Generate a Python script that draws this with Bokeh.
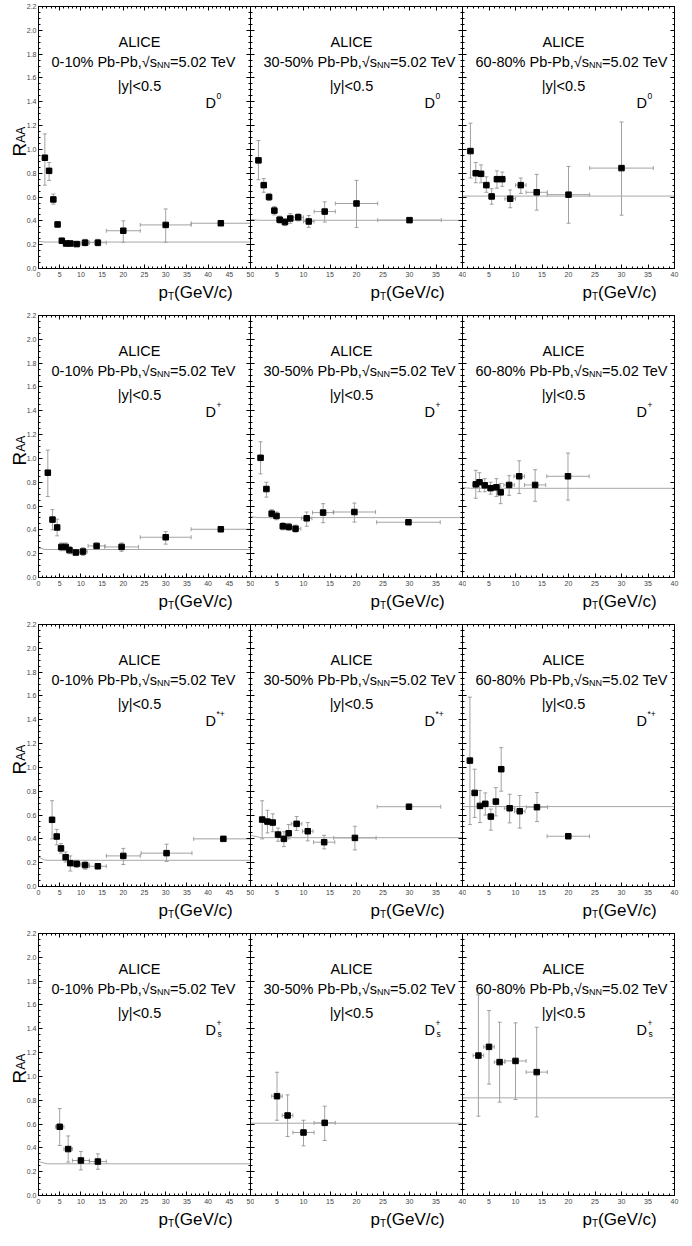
import math
from bokeh.plotting import figure
from bokeh.layouts import column, row
from bokeh.models import (ColumnDataSource, Whisker, TeeHead, Label, LinearAxis,
                          Range1d, FixedTicker, NumeralTickFormatter)
from bokeh.embed import file_html
from bokeh.resources import INLINE

# ---------------- data ----------------
centralities = ["0-10%", "30-50%", "60-80%"]
meson_sup = ["0", "+", "*+", "+"]
meson_sub = ["", "", "", "s"]
x_max = [50, 40, 40]
x_major_50 = [0, 5, 10, 15, 20, 25, 30, 35, 40, 45, 50]
x_major_40 = [5, 10, 15, 20, 25, 30, 35, 40]
y_major = [0.0, 0.2, 0.4, 0.6, 0.8, 1.0, 1.2, 1.4, 1.6, 1.8, 2.0, 2.2]

# D0, 0-10%
d0_c1_pt = [1.5, 2.5, 3.5, 4.5, 5.5, 6.5, 7.5, 9, 11, 14, 20, 30, 43]
d0_c1_raa = [0.93, 0.82, 0.58, 0.37, 0.233, 0.21, 0.21, 0.205, 0.217, 0.217, 0.317, 0.366, 0.38]
d0_c1_lo = [0.70, 0.74, 0.54, 0.35, 0.21, 0.19, 0.19, 0.185, 0.19, 0.19, 0.22, 0.22, 0.37]
d0_c1_hi = [1.13, 0.89, 0.625, 0.39, 0.255, 0.23, 0.23, 0.225, 0.245, 0.245, 0.40, 0.50, 0.39]
d0_c1_hw = [0.5, 0.5, 0.5, 0.5, 0.5, 0.5, 0.5, 1, 1, 2, 4, 6, 7]
d0_c1_lx = [0, 1.5, 50]
d0_c1_ly = [0.228, 0.222, 0.222]
# D0, 30-50%
d0_c2_pt = [1.5, 2.5, 3.5, 4.5, 5.5, 6.5, 7.5, 9, 11, 14, 20, 30]
d0_c2_raa = [0.908, 0.70, 0.60, 0.486, 0.41, 0.39, 0.42, 0.43, 0.395, 0.478, 0.546, 0.406]
d0_c2_lo = [0.745, 0.64, 0.57, 0.45, 0.38, 0.36, 0.38, 0.40, 0.345, 0.39, 0.345, 0.395]
d0_c2_hi = [1.075, 0.755, 0.63, 0.52, 0.44, 0.42, 0.46, 0.46, 0.445, 0.56, 0.74, 0.415]
d0_c2_hw = [0.5, 0.5, 0.5, 0.5, 0.5, 0.5, 0.5, 1, 1, 2, 4, 6]
d0_c2_lx = [0, 1.5, 40]
d0_c2_ly = [0.412, 0.405, 0.405]
# D0, 60-80%
d0_c3_pt = [1.5, 2.5, 3.5, 4.5, 5.5, 6.5, 7.5, 9, 11, 14, 20, 30]
d0_c3_raa = [0.986, 0.80, 0.795, 0.70, 0.605, 0.75, 0.75, 0.586, 0.70, 0.64, 0.62, 0.843]
d0_c3_lo = [0.76, 0.72, 0.72, 0.64, 0.54, 0.675, 0.69, 0.51, 0.63, 0.49, 0.38, 0.448]
d0_c3_hi = [1.22, 0.89, 0.87, 0.77, 0.67, 0.82, 0.81, 0.66, 0.76, 0.79, 0.857, 1.23]
d0_c3_hw = [0.5, 0.5, 0.5, 0.5, 0.5, 0.5, 0.5, 1, 1, 2, 4, 6]
d0_c3_lx = [0, 40]
d0_c3_ly = [0.608, 0.608]

# D+, 0-10%
dp_c1_pt = [2.2, 3.3, 4.4, 5.4, 6.4, 7.3, 8.8, 10.5, 13.7, 19.6, 30, 43]
dp_c1_raa = [0.88, 0.486, 0.42, 0.257, 0.257, 0.23, 0.21, 0.218, 0.265, 0.257, 0.338, 0.405]
dp_c1_lo = [0.68, 0.40, 0.35, 0.225, 0.225, 0.20, 0.19, 0.185, 0.24, 0.22, 0.28, 0.395]
dp_c1_hi = [1.07, 0.57, 0.49, 0.29, 0.29, 0.26, 0.23, 0.25, 0.29, 0.29, 0.385, 0.415]
dp_c1_hw = [0.5, 0.5, 0.5, 0.5, 0.5, 0.5, 1, 1, 2, 4, 6, 7]
dp_c1_lx = [0, 1.5, 50]
dp_c1_ly = [0.25, 0.235, 0.235]
# D+, 30-50%
dp_c2_pt = [1.9, 3.0, 4.0, 4.9, 6.1, 7.2, 8.5, 10.6, 13.7, 19.6, 29.8]
dp_c2_raa = [1.005, 0.743, 0.536, 0.517, 0.43, 0.425, 0.41, 0.497, 0.545, 0.55, 0.464]
dp_c2_lo = [0.87, 0.675, 0.50, 0.485, 0.40, 0.395, 0.38, 0.43, 0.46, 0.465, 0.455]
dp_c2_hi = [1.14, 0.80, 0.57, 0.55, 0.46, 0.455, 0.44, 0.55, 0.62, 0.625, 0.473]
dp_c2_hw = [0.5, 0.5, 0.5, 0.5, 0.5, 0.5, 1, 1, 2, 4, 6]
dp_c2_lx = [0, 1.5, 40]
dp_c2_ly = [0.51, 0.503, 0.503]
# D+, 60-80%
dp_c3_pt = [2.5, 3.2, 4.2, 5.3, 6.4, 7.2, 8.8, 10.7, 13.7, 19.9]
dp_c3_raa = [0.782, 0.80, 0.774, 0.75, 0.757, 0.715, 0.777, 0.85, 0.777, 0.85]
dp_c3_lo = [0.665, 0.72, 0.72, 0.70, 0.68, 0.62, 0.69, 0.705, 0.64, 0.65]
dp_c3_hi = [0.90, 0.88, 0.83, 0.80, 0.83, 0.79, 0.855, 0.98, 0.905, 1.045]
dp_c3_hw = [0.5, 0.5, 0.5, 0.5, 0.5, 0.5, 1, 1, 2, 4]
dp_c3_lx = [0, 1.5, 40]
dp_c3_ly = [0.755, 0.749, 0.749]

# D*+, 0-10%
ds_c1_pt = [3.2, 4.3, 5.3, 6.4, 7.5, 9, 11, 14, 20, 30.2, 43.6]
ds_c1_raa = [0.56, 0.42, 0.32, 0.246, 0.196, 0.19, 0.18, 0.17, 0.257, 0.28, 0.40]
ds_c1_lo = [0.40, 0.35, 0.28, 0.205, 0.13, 0.16, 0.145, 0.15, 0.185, 0.21, 0.39]
ds_c1_hi = [0.72, 0.48, 0.36, 0.29, 0.257, 0.22, 0.215, 0.19, 0.32, 0.355, 0.41]
ds_c1_hw = [0.5, 0.5, 0.5, 0.5, 0.5, 1, 1, 2, 4, 6, 7]
ds_c1_lx = [0, 1.2, 2, 50]
ds_c1_ly = [0.25, 0.225, 0.22, 0.22]
# D*+, 30-50%
ds_c2_pt = [2.2, 3.2, 4.2, 5.2, 6.3, 7.2, 8.7, 10.8, 13.9, 19.7, 29.9]
ds_c2_raa = [0.562, 0.545, 0.537, 0.436, 0.40, 0.447, 0.526, 0.464, 0.372, 0.408, 0.67]
ds_c2_lo = [0.40, 0.45, 0.46, 0.38, 0.335, 0.40, 0.47, 0.383, 0.316, 0.307, 0.66]
ds_c2_hi = [0.72, 0.64, 0.61, 0.49, 0.46, 0.52, 0.587, 0.537, 0.43, 0.506, 0.68]
ds_c2_hw = [0.5, 0.5, 0.5, 0.5, 0.5, 0.5, 1, 1, 2, 4, 6]
ds_c2_lx = [0, 2, 40]
ds_c2_ly = [0.43, 0.41, 0.41]
# D*+, 60-80%
ds_c3_pt = [1.4, 2.3, 3.3, 4.3, 5.35, 6.3, 7.3, 8.9, 10.8, 14.05, 19.96]
ds_c3_raa = [1.057, 0.786, 0.677, 0.694, 0.587, 0.713, 0.985, 0.657, 0.632, 0.666, 0.422]
ds_c3_lo = [0.52, 0.58, 0.537, 0.60, 0.473, 0.593, 0.80, 0.534, 0.49, 0.545, 0.415]
ds_c3_hi = [1.59, 0.985, 0.806, 0.786, 0.65, 0.83, 1.166, 0.775, 0.764, 0.789, 0.43]
ds_c3_hw = [0.5, 0.5, 0.5, 0.5, 0.5, 0.5, 0.5, 1, 1, 2, 4]
ds_c3_lx = [0, 40]
ds_c3_ly = [0.671, 0.671]

# Ds+, 0-10%
dss_c1_pt = [5, 7, 10, 14]
dss_c1_raa = [0.577, 0.39, 0.294, 0.285]
dss_c1_lo = [0.42, 0.28, 0.215, 0.22]
dss_c1_hi = [0.73, 0.50, 0.37, 0.35]
dss_c1_hw = [1, 1, 2, 2]
dss_c1_lx = [0, 2, 50]
dss_c1_ly = [0.285, 0.266, 0.266]
# Ds+, 30-50%
dss_c2_pt = [5, 7, 10, 14]
dss_c2_raa = [0.834, 0.672, 0.529, 0.61]
dss_c2_lo = [0.632, 0.495, 0.417, 0.462]
dss_c2_hi = [1.035, 0.845, 0.632, 0.75]
dss_c2_hw = [1, 1, 2, 2]
dss_c2_lx = [0, 40]
dss_c2_ly = [0.607, 0.607]
# Ds+, 60-80%
dss_c3_pt = [3, 5, 7, 10, 14]
dss_c3_raa = [1.175, 1.248, 1.12, 1.13, 1.036]
dss_c3_lo = [0.666, 0.935, 0.784, 0.806, 0.66]
dss_c3_hi = [1.685, 1.553, 1.455, 1.45, 1.413]
dss_c3_hw = [1, 1, 1, 2, 2]
dss_c3_lx = [0, 40]
dss_c3_ly = [0.82, 0.82]

panel_data = [
    [(d0_c1_pt, d0_c1_raa, d0_c1_lo, d0_c1_hi, d0_c1_hw, d0_c1_lx, d0_c1_ly),
     (d0_c2_pt, d0_c2_raa, d0_c2_lo, d0_c2_hi, d0_c2_hw, d0_c2_lx, d0_c2_ly),
     (d0_c3_pt, d0_c3_raa, d0_c3_lo, d0_c3_hi, d0_c3_hw, d0_c3_lx, d0_c3_ly)],
    [(dp_c1_pt, dp_c1_raa, dp_c1_lo, dp_c1_hi, dp_c1_hw, dp_c1_lx, dp_c1_ly),
     (dp_c2_pt, dp_c2_raa, dp_c2_lo, dp_c2_hi, dp_c2_hw, dp_c2_lx, dp_c2_ly),
     (dp_c3_pt, dp_c3_raa, dp_c3_lo, dp_c3_hi, dp_c3_hw, dp_c3_lx, dp_c3_ly)],
    [(ds_c1_pt, ds_c1_raa, ds_c1_lo, ds_c1_hi, ds_c1_hw, ds_c1_lx, ds_c1_ly),
     (ds_c2_pt, ds_c2_raa, ds_c2_lo, ds_c2_hi, ds_c2_hw, ds_c2_lx, ds_c2_ly),
     (ds_c3_pt, ds_c3_raa, ds_c3_lo, ds_c3_hi, ds_c3_hw, ds_c3_lx, ds_c3_ly)],
    [(dss_c1_pt, dss_c1_raa, dss_c1_lo, dss_c1_hi, dss_c1_hw, dss_c1_lx, dss_c1_ly),
     (dss_c2_pt, dss_c2_raa, dss_c2_lo, dss_c2_hi, dss_c2_hw, dss_c2_lx, dss_c2_ly),
     (dss_c3_pt, dss_c3_raa, dss_c3_lo, dss_c3_hi, dss_c3_hw, dss_c3_lx, dss_c3_ly)],
]

# ---------------- styling / layout ----------------
FONT = "Liberation Sans"
FW, FH = 212, 262
RSTRIP, ROVER = 34, 11          # R_AA strip width and how far column 1 overlaps it
LB, RB, RB_LAST = 12, 4, 5      # left border of 1st column, right borders
TOP, BOT = 6, 11
XSTRIP, XSTRIP_LAST = 30, 22    # height of the strips holding p_T(GeV/c)
FRAME0 = RSTRIP - ROVER + LB    # x of the first frame inside the page content
TOTAL_W = FRAME0 + 3 * FW + RB_LAST
ERR_COLOR = "#8a8a8a"
LINE_COLOR = "#a8a8a8"

ADV = {'0': .556, '1': .556, '2': .556, '3': .556, '4': .556, '5': .556, '6': .556,
       '7': .556, '8': .556, '9': .556, '-': .333, '%': .889, ' ': .278, 'P': .667,
       'b': .556, ',': .278, '\u221a': .549, 's': .5, 'N': .722, '=': .584, '.': .278,
       'T': .611, 'e': .556, 'V': .667, 'D': .722, 'p': .556, 'R': .722, 'A': .667}


def tw(s, size):
    return sum(ADV.get(ch, .556) for ch in s) * size


def labeled_axis(ticks, minor, standoff, fmt=None):
    ax = LinearAxis(ticker=FixedTicker(ticks=ticks, minor_ticks=minor))
    ax.axis_line_color = "black"
    ax.major_tick_line_color = "black"
    ax.minor_tick_line_color = "black"
    ax.major_tick_in = 4
    ax.major_tick_out = 0
    ax.minor_tick_in = 2
    ax.minor_tick_out = 0
    ax.major_label_text_font = FONT
    ax.major_label_text_font_size = "7px"
    ax.major_label_text_color = "#444444"
    ax.major_label_standoff = standoff
    if fmt is not None:
        ax.formatter = fmt
    return ax


def plain_axes(p, side, major, minor):
    # tick marks only, no tick labels: two axes carrying long and short marks
    for ticks, ln in ((major, 4), (minor, 2)):
        ax = LinearAxis(ticker=FixedTicker(ticks=[], minor_ticks=ticks))
        ax.axis_line_color = "black"
        ax.major_tick_in = 0
        ax.major_tick_out = 0
        ax.minor_tick_in = ln
        ax.minor_tick_out = 0
        ax.minor_tick_line_color = "black"
        ax.major_label_standoff = 0
        p.add_layout(ax, side)


def lab(p, text, x, y, xo, yo, size, align="left", angle=0.0):
    p.add_layout(Label(x=x, y=y, x_offset=xo, y_offset=yo, text=text,
                       text_font=FONT, text_font_size=f"{size}px", text_color="black",
                       text_align=align, text_baseline="alphabetic", angle=angle))


def make_panel(r, c):
    pt, raa, lo, hi, hw, lx, ly = panel_data[r][c]
    xmax = x_max[c]
    p = figure(frame_width=FW, frame_height=FH,
               x_range=Range1d(0, xmax), y_range=Range1d(0, 2.2),
               output_backend="svg", toolbar_location=None,
               x_axis_location=None, y_axis_location=None,
               min_border_left=LB if c == 0 else 0,
               min_border_right=RB_LAST if c == 2 else RB,
               min_border_top=TOP, min_border_bottom=BOT,
               background_fill_color="white",
               border_fill_color="white", border_fill_alpha=0.0,
               outline_line_color="black",
               margin=(0, 0, 0, -ROVER) if c == 0 else (0, 0, 0, -RB))
    p.grid.visible = False

    xt = x_major_50 if xmax == 50 else x_major_40
    xall = [0, 5, 10, 15, 20, 25, 30, 35, 40, 45, 50][: xmax // 5 + 1]
    xm = list(range(0, xmax + 1))
    ym = [i * 0.05 for i in range(45)]
    p.add_layout(labeled_axis(xt, xm, 3), "below")
    plain_axes(p, "above", xall, xm)
    if c == 0:
        p.add_layout(labeled_axis(y_major, ym, 2, NumeralTickFormatter(format="0.0")), "left")
    else:
        plain_axes(p, "left", y_major, ym)
    plain_axes(p, "right", y_major, ym)

    # reference curve
    p.line(lx, ly, line_color=LINE_COLOR, line_width=1)

    src = ColumnDataSource(dict(x=pt, y=raa, lo=lo, hi=hi,
                                xl=[a - b for a, b in zip(pt, hw)],
                                xr=[a + b for a, b in zip(pt, hw)]))
    for base, lower, upper, dim in (("x", "lo", "hi", "height"), ("y", "xl", "xr", "width")):
        p.add_layout(Whisker(source=src, base=base, lower=lower, upper=upper, dimension=dim,
                             line_color=ERR_COLOR, line_width=0.8,
                             upper_head=TeeHead(size=4, line_color=ERR_COLOR, line_width=0.8),
                             lower_head=TeeHead(size=4, line_color=ERR_COLOR, line_width=0.8)))
    p.scatter("x", "y", source=src, marker="square", size=5.5, color="black")

    # in-panel texts
    px = xmax / FW  # data units per pixel
    xc = xmax / 2
    lab(p, "ALICE", xc, 2.2, -5, -35, 14.5, "center")
    part1 = f"{centralities[c]} Pb-Pb,\u221as"
    x0 = 13
    lab(p, part1, 0, 2.2, x0, -55, 14.5)
    w1 = tw(part1, 14.5)
    lab(p, "NN", 0, 2.2, x0 + w1, -58, 9)
    lab(p, "=5.02 TeV", 0, 2.2, x0 + w1 + tw("NN", 9), -55, 14.5)
    lab(p, "|y|<0.5", xc, 2.2, -5, -79, 14.5, "center")

    dx = (FW - (45 if c == 0 else 38)) * px
    lab(p, "D", dx, 2.2, 0, -96, 14.5)
    wd = tw("D", 14.5)
    lab(p, meson_sup[r], dx, 2.2, wd + 0.5, -89, 8.5)
    if meson_sub[r]:
        lab(p, meson_sub[r], dx, 2.2, wd + 1.5, -100, 8.5)
    return p


def strip(w, h):
    s = figure(frame_width=w, frame_height=h, x_range=Range1d(0, w), y_range=Range1d(0, h),
               output_backend="svg", toolbar_location=None,
               x_axis_location=None, y_axis_location=None, min_border=0,
               outline_line_color=None, background_fill_color="white",
               border_fill_color="white")
    s.grid.visible = False
    return s


def raa_strip():
    s = strip(RSTRIP, FH)
    s.min_border_top = TOP
    s.min_border_bottom = BOT
    yb = FH - 150
    lab(s, "R", 18.5, yb, 0, 0, 19, angle=math.pi / 2)
    lab(s, "AA", 20.5, yb + tw("R", 19), 0, 0, 12, angle=math.pi / 2)
    return s


def pt_strip(h):
    s = strip(TOTAL_W, h)
    base = h - 13
    for c in range(3):
        right = FRAME0 + (c + 1) * FW
        x0 = right - 89
        lab(s, "p", x0, base, 0, 0, 17)
        wp = tw("p", 17)
        lab(s, "T", x0 + wp, base - 4, 0, 0, 10)
        lab(s, "(GeV/c)", x0 + wp + tw("T", 10), base, 0, 0, 17)
    return s


blocks = []
for r in range(4):
    blocks.append(row(raa_strip(), *[make_panel(r, c) for c in range(3)], spacing=0))
    blocks.append(pt_strip(XSTRIP if r < 3 else XSTRIP_LAST))
layout = column(*blocks, spacing=0)

open("out.html", "w").write(file_html(layout, INLINE))
